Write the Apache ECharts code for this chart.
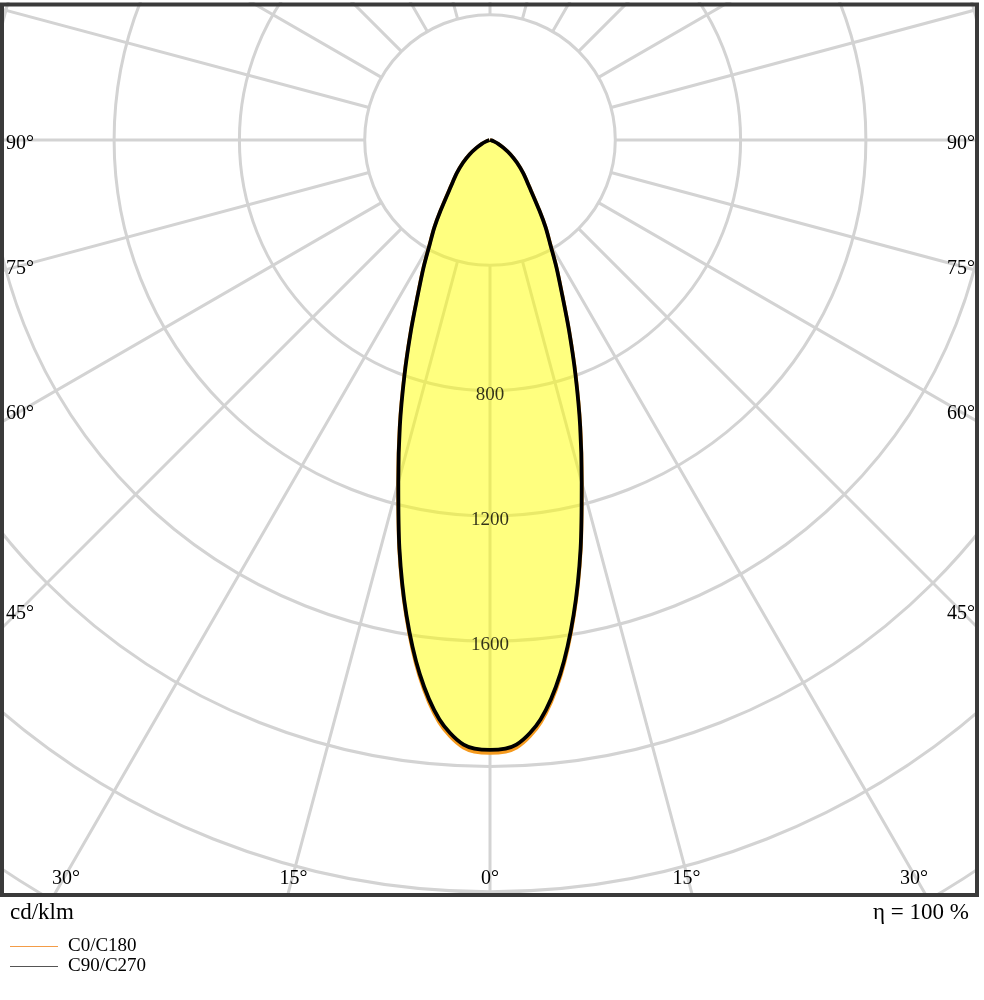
<!DOCTYPE html>
<html>
<head>
<meta charset="utf-8">
<script src="https://cdn.jsdelivr.net/npm/echarts@6/dist/echarts.min.js"></script>
<style>
html,body{margin:0;padding:0;background:#fff;}
#chart{width:984px;height:1000px;}
</style>
</head>
<body>
<div id="chart"></div>
<script>
// ---- data ----
const angles = [0, 2.5, 5, 7.5, 10, 12.5, 15, 17.5, 20, 22.5, 25, 27.5, 30, 32.5, 35, 40, 45, 50, 55, 60, 65, 70, 75, 80, 85, 90];
const c0c180 = [1957, 1942, 1866, 1727, 1543, 1340, 1134, 960, 801, 662, 547, 462, 387, 332, 277, 197, 151, 113, 80, 50, 30, 14, 5, 2, 0, 0];
const c90c270 = [1947, 1932, 1856, 1719, 1538, 1336, 1131, 957, 798, 660, 545, 460, 385, 330, 275, 195, 150, 112, 79, 49, 29, 13, 5, 2, 0, 0];
const radialLabelValues = [800, 1200, 1600];
const sideTickAngles = [90, 75, 60, 45];
const bottomTickAngles = [-30, -15, 0, 15, 30];
const seriesNames = ['C0/C180', 'C90/C270'];
const unitText = 'cd/klm';
const effText = 'η = 100 %';

// ---- layout ----
const CX = 490, CY = 140;
const PX_PER_CD = 125.3 / 400;
const RMAX = 3200;
const ROUT = RMAX * PX_PER_CD;
const FRAME = {left: 4, top: 6, right: 976, bottom: 893};
const FONT = 'Liberation Serif, Times New Roman, serif';

function buildCurve(vals) {
  const d = [];
  for (let i = vals.length - 1; i >= 1; i--) d.push([vals[i], 360 - angles[i]]);
  for (let i = 0; i < vals.length; i++) d.push([vals[i], angles[i]]);
  return d;
}

const graphics = [];
// masks to clip the polar grid to the frame
graphics.push({type: 'rect', shape: {x: 0, y: 897, width: 984, height: 103}, style: {fill: '#fff'}, z: 100, silent: true});
graphics.push({type: 'rect', shape: {x: 979, y: 0, width: 5, height: 1000}, style: {fill: '#fff'}, z: 100, silent: true});
graphics.push({type: 'rect', shape: {x: 0, y: 0, width: 984, height: 2}, style: {fill: '#fff'}, z: 100, silent: true});
// frame
graphics.push({type: 'rect', shape: {x: 2, y: 4.5, width: 975, height: 890.5}, style: {fill: null, stroke: '#3a3a3a', lineWidth: 4}, z: 110, silent: true});

// side angle labels
sideTickAngles.forEach(function (a) {
  const rad = a * Math.PI / 180;
  const dy = (CX - FRAME.left) * Math.cos(rad) / Math.sin(rad);
  const shift = (90 - a) * 16 / 45;
  const y = CY + dy - shift + 3.5;
  graphics.push({type: 'text', x: 6, y: y, style: {text: a + '°', font: '20px ' + FONT, fill: '#000', textAlign: 'left', textVerticalAlign: 'middle'}, z: 120});
  graphics.push({type: 'text', x: 975, y: y, style: {text: a + '°', font: '20px ' + FONT, fill: '#000', textAlign: 'right', textVerticalAlign: 'middle'}, z: 120});
});
// bottom angle labels
bottomTickAngles.forEach(function (a) {
  const rad = Math.abs(a) * Math.PI / 180;
  const dx = (FRAME.bottom - CY) * Math.tan(rad) - Math.abs(a) * 16 / 45;
  const x = CX + Math.sign(a) * dx;
  graphics.push({type: 'text', x: x, y: 879, style: {text: Math.abs(a) + '°', font: '20px ' + FONT, fill: '#000', textAlign: 'center', textVerticalAlign: 'middle'}, z: 120});
});
// unit and efficiency texts
graphics.push({type: 'text', x: 10, y: 913, style: {text: unitText, font: '23px ' + FONT, fill: '#000', textAlign: 'left', textVerticalAlign: 'middle'}, z: 120});
graphics.push({type: 'text', x: 969, y: 913, style: {text: effText, font: '23px ' + FONT, fill: '#000', textAlign: 'right', textVerticalAlign: 'middle'}, z: 120});

const chart = echarts.init(document.getElementById('chart'), null, {renderer: 'canvas'});
chart.setOption({
  animation: false,
  backgroundColor: '#fff',
  polar: [
    {center: [CX, CY], radius: [400 * PX_PER_CD, ROUT]},
    {center: [CX, CY], radius: [0, ROUT]}
  ],
  angleAxis: [
    {polarIndex: 0, type: 'value', min: 0, max: 360, interval: 15, startAngle: 270,
      axisLine: {show: false}, axisTick: {show: false}, axisLabel: {show: false},
      splitLine: {show: true, lineStyle: {color: '#d3d3d3', width: 3}}},
    {polarIndex: 1, type: 'value', min: 0, max: 360, interval: 15, startAngle: 270,
      axisLine: {show: false}, axisTick: {show: false}, axisLabel: {show: false}, splitLine: {show: false}}
  ],
  radiusAxis: [
    {polarIndex: 0, type: 'value', min: 400, max: RMAX, interval: 400,
      axisLine: {show: false}, axisTick: {show: false}, axisLabel: {show: false},
      splitLine: {show: true, lineStyle: {color: '#d3d3d3', width: 3}}},
    {polarIndex: 1, type: 'value', min: 0, max: RMAX, interval: 400,
      axisLine: {show: false}, axisTick: {show: false}, axisLabel: {show: false}, splitLine: {show: false}}
  ],
  legend: {
    orient: 'vertical', left: 5, top: 932, itemWidth: 48, itemHeight: 1, itemGap: 1, z: 200,
    icon: 'rect',
    data: [
      {name: seriesNames[0], itemStyle: {color: '#f39c48'}},
      {name: seriesNames[1], itemStyle: {color: '#555555'}}
    ],
    textStyle: {fontFamily: FONT, fontSize: 19, color: '#000', padding: [0, 0, 0, 5]},
    selectedMode: false
  },
  graphic: {elements: graphics},
  series: [
    {name: seriesNames[0], type: 'line', coordinateSystem: 'polar', polarIndex: 1, z: 2,
      data: buildCurve(c0c180), symbol: 'none', smooth: 0.3,
      lineStyle: {color: '#f59a1e', width: 3.5},
      itemStyle: {color: '#f39c48'},
      areaStyle: {color: 'rgba(255,255,0,0.5)', opacity: 1}},
    {name: seriesNames[1], type: 'line', coordinateSystem: 'polar', polarIndex: 1, z: 3,
      data: buildCurve(c90c270), symbol: 'none', smooth: 0.3,
      lineStyle: {color: '#000', width: 3.8},
      itemStyle: {color: '#555555'}},
    {name: 'labels', type: 'scatter', coordinateSystem: 'polar', polarIndex: 1, z: 20,
      data: radialLabelValues.map(function (v) { return [v, 0]; }),
      symbolSize: 0, silent: true,
      label: {show: true, position: 'inside', offset: [0, 4], formatter: function (p) { return String(p.value[0]); },
        fontFamily: FONT, fontSize: 19, color: '#000'}}
  ]
});
</script>
</body>
</html>
